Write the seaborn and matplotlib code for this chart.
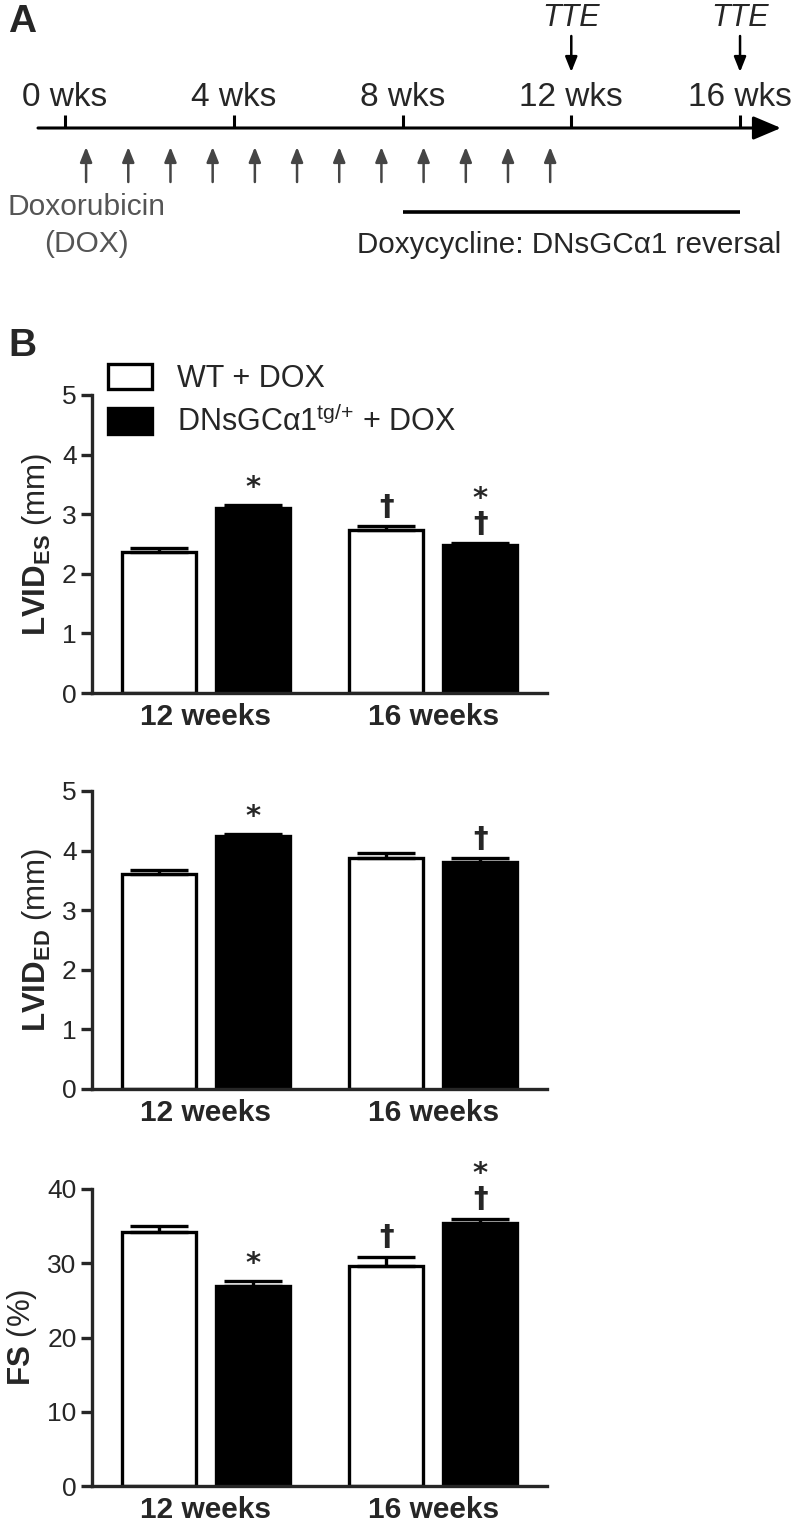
import numpy as np
import pandas as pd
import matplotlib
matplotlib.use("Agg")
import matplotlib.pyplot as plt
from matplotlib.patches import Patch
import seaborn as sns

# ---------------- data ----------------
timeline_weeks = [0, 4, 8, 12, 16]
timeline_labels = ["0 wks", "4 wks", "8 wks", "12 wks", "16 wks"]
dox_weeks = [0.5, 1.5, 2.5, 3.5, 4.5, 5.5, 6.5, 7.5, 8.5, 9.5, 10.5, 11.5]
tte_weeks = [12, 16]
doxy_start, doxy_end = 8, 16

times = ["12 weeks", "16 weeks"]
groups = ["WT + DOX", "DNsGCα1$^{\\mathrm{tg/}{+}}$ + DOX"]

es_wt = [2.37, 2.73]
es_wt_err = [0.06, 0.07]
es_dn = [3.10, 2.48]
es_dn_err = [0.06, 0.03]
es_marks_wt = ["", "†"]
es_marks_dn = ["*", "*\n†"]

ed_wt = [3.61, 3.88]
ed_wt_err = [0.07, 0.08]
ed_dn = [4.24, 3.81]
ed_dn_err = [0.04, 0.06]
ed_marks_wt = ["", ""]
ed_marks_dn = ["*", "†"]

fs_wt = [34.2, 29.6]
fs_wt_err = [0.8, 1.3]
fs_dn = [27.0, 35.4]
fs_dn_err = [0.6, 0.6]
fs_marks_wt = ["", "†"]
fs_marks_dn = ["*", "*\n†"]

# ---------------- style ----------------
sns.set_style("ticks")
plt.rcParams["font.family"] = ["Liberation Sans", "DejaVu Sans"]
plt.rcParams["mathtext.fontset"] = "custom"
plt.rcParams["mathtext.rm"] = "Liberation Sans"
plt.rcParams["mathtext.bf"] = "Liberation Sans:bold"
plt.rcParams["mathtext.it"] = "Liberation Sans:italic"

W, H = 792, 1526
fig = plt.figure(figsize=(W / 100, H / 100), dpi=100)
fig.patch.set_facecolor("white")

# ---------------- panel A: timeline ----------------
px_per_wk = 42.19
x0 = 65
axA = fig.add_axes([0, 1 - 280 / H, 1, 280 / H])
axA.set_xlim(-x0 / px_per_wk, (W - x0) / px_per_wk)
axA.set_ylim(280, 0)
axA.axis("off")

line_y = 128
axA.annotate("", xy=(16.97, line_y), xytext=(-0.64, line_y),
             arrowprops=dict(arrowstyle="-|>,head_length=0.85,head_width=0.36",
                             lw=2.2, color="black", mutation_scale=20,
                             shrinkA=0, shrinkB=0))
axA.vlines(timeline_weeks, 115, line_y, color="black", lw=2.2)
for w, lab in zip(timeline_weeks, timeline_labels):
    axA.text(w, 97, lab, ha="center", va="center", fontsize=24)
for w in tte_weeks:
    axA.text(w, 18, "TTE", ha="center", va="center", fontsize=22, style="italic")
    axA.annotate("", xy=(w, 72), xytext=(w, 36),
                 arrowprops=dict(arrowstyle="-|>,head_length=0.9,head_width=0.36",
                                 lw=1.8, color="black", mutation_scale=10,
                                 shrinkA=0, shrinkB=0))
for w in dox_weeks:
    axA.annotate("", xy=(w, 147), xytext=(w, 182),
                 arrowprops=dict(arrowstyle="-|>,head_length=0.9,head_width=0.36",
                                 lw=1.8, color="#454545", mutation_scale=10,
                                 shrinkA=0, shrinkB=0))
axA.text(dox_weeks[0], 207, "Doxorubicin", ha="center", va="center",
         fontsize=21.5, color="#555555")
axA.text(dox_weeks[0], 244, "(DOX)", ha="center", va="center",
         fontsize=21.5, color="#555555")
axA.hlines(212, doxy_start, doxy_end, color="black", lw=2.6)
axA.text((doxy_start + doxy_end) / 2 - 0.05, 245, "Doxycycline: DNsGCα1 reversal",
         ha="center", va="center", fontsize=21.3)
fig.text(8 / W, 1 - 4 / H, "A", fontsize=28, fontweight="bold", ha="left", va="top")
fig.text(8 / W, 1 - 328 / H, "B", fontsize=28, fontweight="bold", ha="left", va="top")

# ---------------- panel B: bar charts ----------------
palette = {groups[0]: "white", groups[1]: "black"}


def make_df(wt, dn):
    return pd.DataFrame({
        "time": times * 2,
        "group": [groups[0]] * 2 + [groups[1]] * 2,
        "value": list(wt) + list(dn),
    })


def bar_panel(rect, wt, wt_err, dn, dn_err, marks_wt, marks_dn, ylim, yticks, ylabel,
              legend=False):
    ax = fig.add_axes(rect)
    df = make_df(wt, dn)
    sns.barplot(data=df, x="time", y="value", hue="group", hue_order=groups,
                order=times, palette=palette, edgecolor="black", linewidth=2.4,
                width=0.826, gap=0.21, errorbar=None, legend=False, ax=ax,
                saturation=1)
    bars = sorted(ax.patches[:4], key=lambda p: p.get_x())
    # order after sort: WT12, DN12, WT16, DN16
    vals = [wt[0], dn[0], wt[1], dn[1]]
    errs = [wt_err[0], dn_err[0], wt_err[1], dn_err[1]]
    marks = [marks_wt[0], marks_dn[0], marks_wt[1], marks_dn[1]]
    for p, v, e, mk in zip(bars, vals, errs, marks):
        xc = p.get_x() + p.get_width() / 2
        ax.errorbar([xc], [v], yerr=[[0], [e]], fmt="none", ecolor="black",
                    elinewidth=2.4, capsize=21, capthick=2.4, zorder=1)
        if mk:
            off = 2 if mk == "*" else 4
            ax.annotate(mk, xy=(xc, v + e), xytext=(0, off),
                        textcoords="offset points", ha="center", va="bottom",
                        fontsize=21, fontweight="bold", linespacing=0.85,
                        family=["DejaVu Sans"])
    ax.set_xlim(-0.5, 1.5)
    ax.set_ylim(*ylim)
    ax.set_yticks(yticks)
    ax.set_xlabel("")
    ax.set_ylabel(ylabel, fontsize=22.5, labelpad=6)
    sns.despine(ax=ax)
    for s in ["left", "bottom"]:
        ax.spines[s].set_linewidth(2.4)
    ax.tick_params(axis="y", length=8, width=2.4, labelsize=19, pad=3)
    ax.tick_params(axis="x", length=0, labelsize=21.5, pad=7)
    for t in ax.get_xticklabels():
        t.set_fontweight("bold")
    if legend:
        handles = [Patch(facecolor=palette[g], edgecolor="black", linewidth=2.4)
                   for g in groups]
        ax.legend(handles, groups, loc="upper left",
                  bbox_to_anchor=(108 / W, 1 - 364 / H),
                  bbox_transform=fig.transFigure, frameon=False, fontsize=22,
                  handlelength=1.45, handleheight=0.9, handletextpad=0.8,
                  labelspacing=0.4, borderpad=0, borderaxespad=0)
    return ax


left = 92 / W
width = 455 / W
bar_panel([left, 1 - 693 / H, width, 298 / H], es_wt, es_wt_err, es_dn, es_dn_err,
          es_marks_wt, es_marks_dn, (0, 5), [0, 1, 2, 3, 4, 5],
          r"$\mathbf{LVID_{ES}}$ (mm)", legend=True)
bar_panel([left, 1 - 1089 / H, width, 298 / H], ed_wt, ed_wt_err, ed_dn, ed_dn_err,
          ed_marks_wt, ed_marks_dn, (0, 5), [0, 1, 2, 3, 4, 5],
          r"$\mathbf{LVID_{ED}}$ (mm)")
bar_panel([left, 1 - 1486 / H, width, 297 / H], fs_wt, fs_wt_err, fs_dn, fs_dn_err,
          fs_marks_wt, fs_marks_dn, (0, 40), [0, 10, 20, 30, 40],
          r"$\mathbf{FS}$ (%)")

fig.savefig("out.png", dpi=100, facecolor="white")
